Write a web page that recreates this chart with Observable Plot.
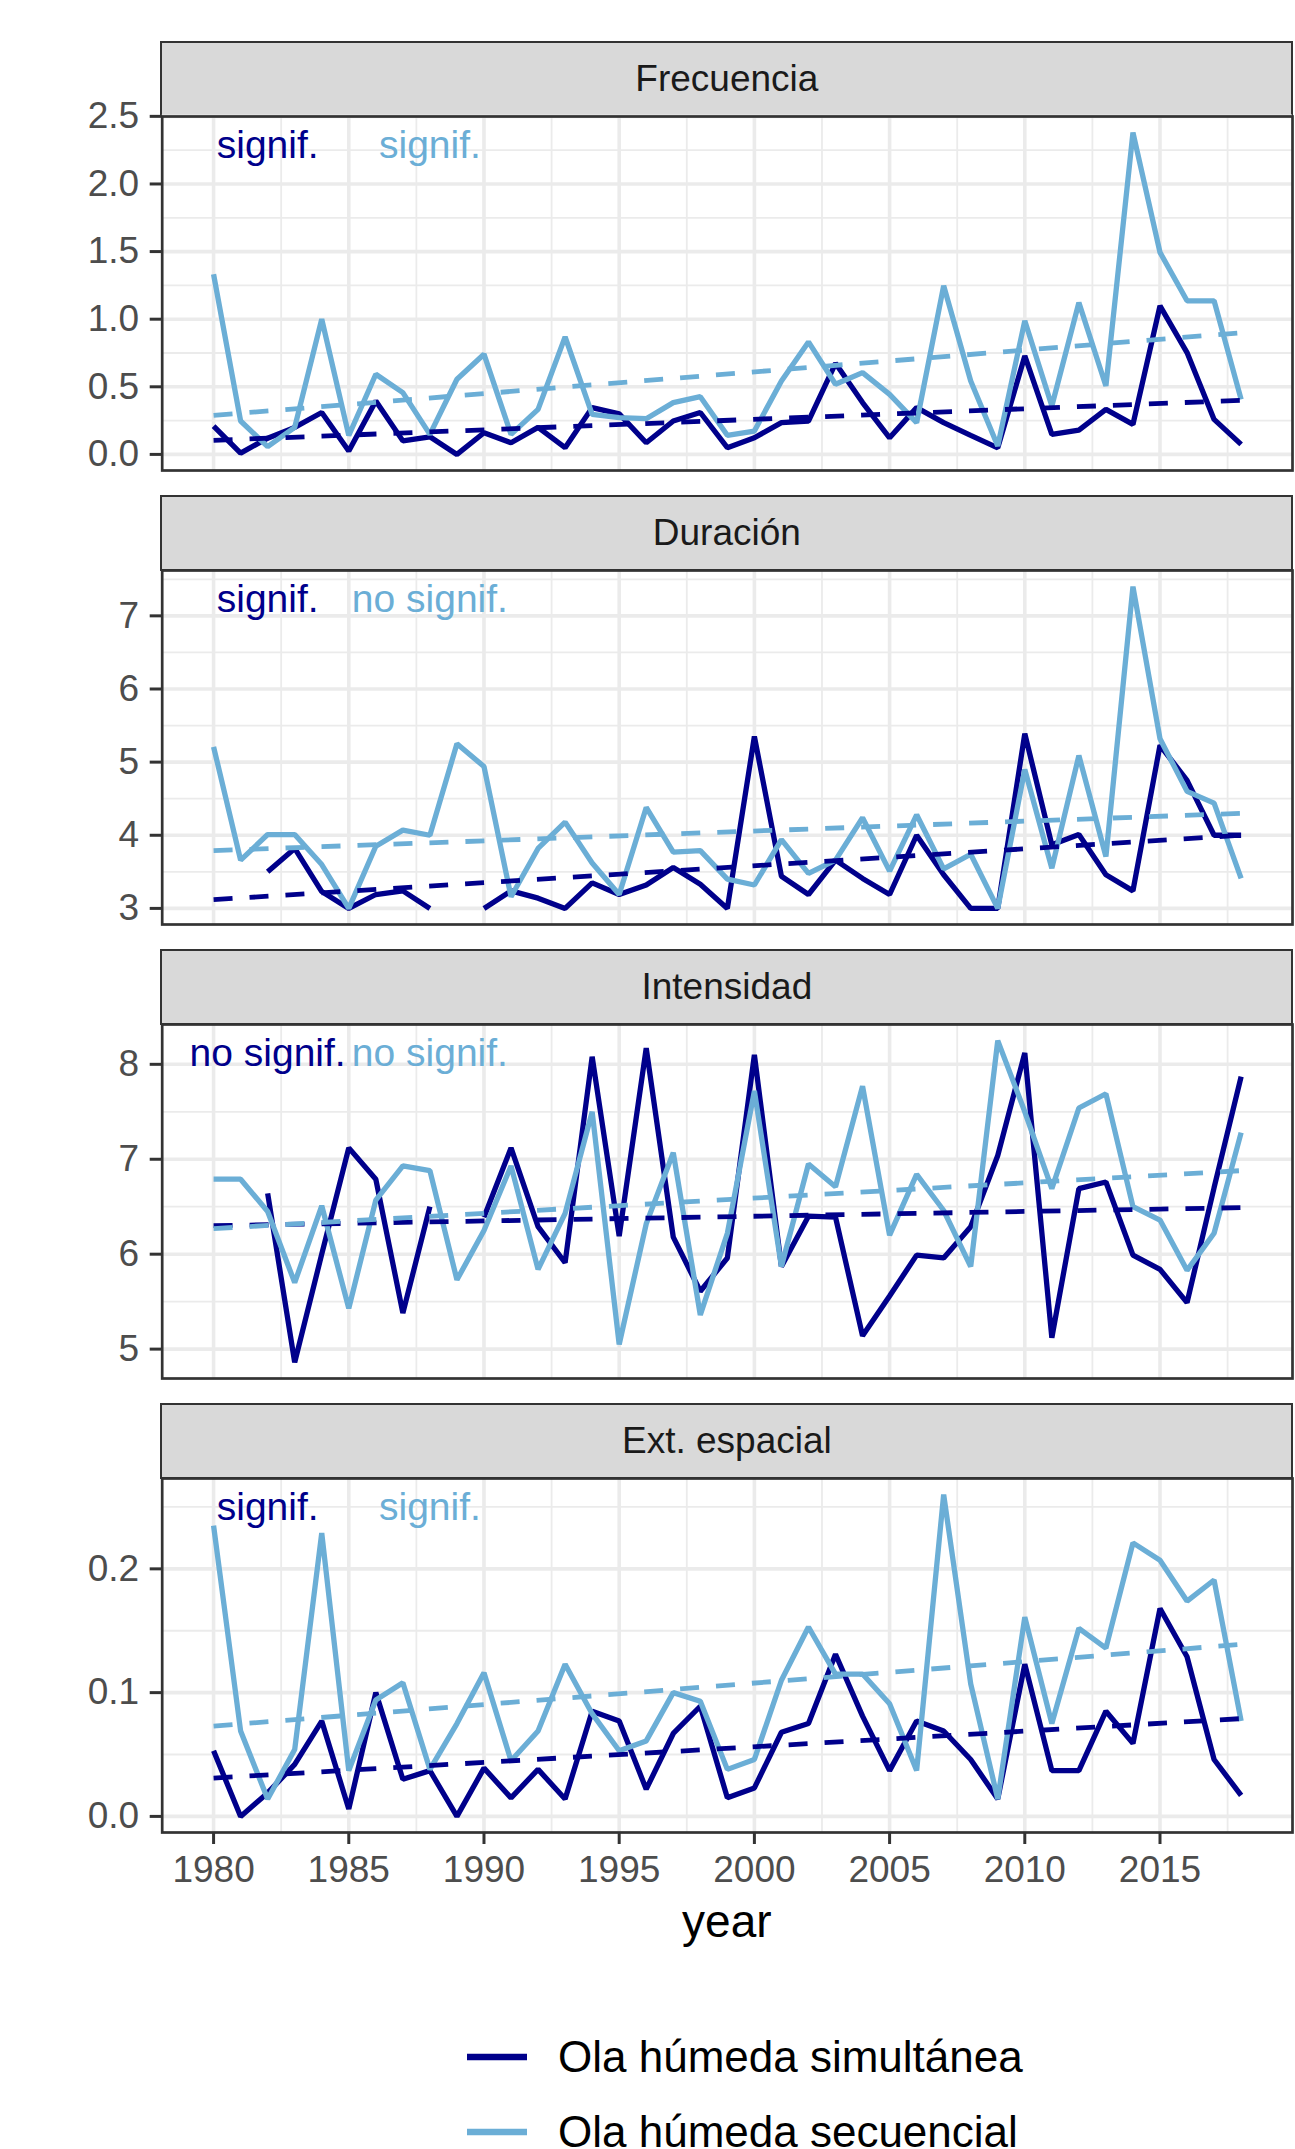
<!DOCTYPE html>
<html>
<head>
<meta charset="utf-8">
<script src="https://cdn.jsdelivr.net/npm/d3@7"></script>
<script src="https://cdn.jsdelivr.net/npm/@observablehq/plot@0.6"></script>
<style>
  html, body { margin: 0; padding: 0; background: #ffffff; }
  #root { position: relative; width: 1295px; height: 2149px; overflow: hidden; background: #ffffff;
          font-family: "Liberation Sans", Arial, Helvetica, sans-serif; }
  .strip { position: absolute; box-sizing: border-box; background: #d9d9d9; border: 2.7px solid #333333;
           color: #1a1a1a; font-size: 37px; display: flex; align-items: center; justify-content: center; }
  .xtitle { position: absolute; left: 161.7px; width: 1130.3px; text-align: center; font-size: 46px; color: #000; }
  .legend-item { position: absolute; left: 460px; display: flex; align-items: center; font-size: 44px; color: #000; }
</style>
</head>
<body>
<div id="root"></div>
<script>
// ---------------- data ----------------
const years = [1980,1981,1982,1983,1984,1985,1986,1987,1988,1989,
               1990,1991,1992,1993,1994,1995,1996,1997,1998,1999,
               2000,2001,2002,2003,2004,2005,2006,2007,2008,2009,
               2010,2011,2012,2013,2014,2015,2016,2017,2018];

const panelTitles = ["Frecuencia", "Duración", "Intensidad", "Ext. espacial"];
const seriesNames = ["Ola húmeda simultánea", "Ola húmeda secuencial"];

// Frecuencia
const frecSim = [0.21,0.01,0.12,0.20,0.31,0.025,0.395,0.10,0.13,0.0,
                 0.16,0.086,0.20,0.05,0.346,0.30,0.086,0.247,0.31,0.05,
                 0.123,0.235,0.247,0.674,0.383,0.123,0.346,0.235,0.141,0.049,
                 0.728,0.148,0.18,0.333,0.222,1.099,0.753,0.259,0.074];
const frecSec = [1.333,0.247,0.057,0.20,1.0,0.14,0.593,0.457,0.148,0.556,
                 0.741,0.148,0.333,0.869,0.296,0.272,0.264,0.383,0.427,0.141,
                 0.173,0.543,0.832,0.519,0.605,0.444,0.235,1.247,0.543,0.062,
                 0.988,0.358,1.123,0.506,2.38,1.494,1.136,1.136,0.407];
// Duración
const durSim = [null,null,3.50,3.82,3.23,3.0,3.19,3.24,3.0,null,
                3.0,3.24,3.14,3.0,3.35,3.19,3.32,3.56,3.33,3.0,
                5.35,3.44,3.19,3.66,3.41,3.19,4.0,3.46,3.0,3.0,
                5.39,3.87,4.01,3.46,3.24,5.23,4.75,4.0,4.0];
const durSec = [5.21,3.66,4.01,4.01,3.6,3.0,3.85,4.07,4.0,5.25,
                4.94,3.16,3.82,4.18,3.62,3.19,4.38,3.77,3.79,3.40,
                3.32,3.94,3.48,3.66,4.24,3.51,4.28,3.54,3.74,3.0,
                4.90,3.55,5.09,3.71,7.40,5.32,4.60,4.44,3.41];
// Intensidad
const intSim = [null,null,6.64,4.86,6.0,7.12,6.79,5.38,6.5,null,
                6.39,7.12,6.29,5.91,8.08,6.19,8.17,6.18,5.61,5.96,
                8.10,5.87,6.40,6.39,5.14,5.56,5.99,5.96,6.29,7.04,
                8.12,5.12,6.69,6.76,5.99,5.84,5.49,6.7,7.87];
const intSec = [6.79,6.79,6.45,5.70,6.51,5.43,6.57,6.93,6.88,5.73,
                6.25,6.93,5.84,6.43,7.50,5.05,6.32,7.07,5.36,6.22,
                7.72,5.87,6.95,6.71,7.77,6.20,6.84,6.46,5.87,8.25,
                7.5,6.69,7.54,7.69,6.50,6.36,5.83,6.22,7.28];
// Ext. espacial
const extSim = [0.053,0.0,0.019,0.042,0.077,0.006,0.10,0.03,0.037,0.0,
                0.039,0.015,0.038,0.014,0.085,0.077,0.022,0.067,0.089,0.015,
                0.023,0.068,0.075,0.131,0.081,0.037,0.077,0.069,0.046,0.014,
                0.123,0.037,0.037,0.085,0.059,0.168,0.129,0.046,0.017];
const extSec = [0.235,0.069,0.014,0.054,0.229,0.037,0.094,0.108,0.038,0.075,
                0.116,0.045,0.069,0.123,0.083,0.053,0.061,0.10,0.093,0.038,
                0.046,0.11,0.153,0.115,0.115,0.091,0.037,0.26,0.107,0.014,
                0.161,0.075,0.152,0.136,0.221,0.207,0.174,0.191,0.077];

// trend lines (start 1980, end 2018)
const trendYears = [1980, 2018];
const frecSimTrend = [0.104, 0.40];
const frecSecTrend = [0.289, 0.90];
const durSimTrend  = [3.12, 4.00];
const durSecTrend  = [3.79, 4.30];
const intSimTrend  = [6.30, 6.49];
const intSecTrend  = [6.27, 6.88];
const extSimTrend  = [0.031, 0.079];
const extSecTrend  = [0.073, 0.139];

// significance labels
const sigSim = ["signif.", "signif.", "no signif.", "signif."];
const sigSec = ["signif.", "no signif.", "no signif.", "signif."];

// tick labels
const xTicks = [1980, 1985, 1990, 1995, 2000, 2005, 2010, 2015];
const frecTicks = [0, 0.5, 1, 1.5, 2, 2.5];
const durTicks = [3, 4, 5, 6, 7];
const intTicks = [5, 6, 7, 8];
const extTicks = [0, 0.1, 0.2];

// ---------------- drawing ----------------
const dark = "#00008B", light = "#6BAED6";
const FONT = '"Liberation Sans", Arial, Helvetica, sans-serif';
const f1 = d3.format(".1f"), f0 = d => String(d);

const panels = [
  {title: panelTitles[0], sim: frecSim, sec: frecSec, simT: frecSimTrend, secT: frecSecTrend, ticks: frecTicks, fmt: f1, s1: sigSim[0], s2: sigSec[0]},
  {title: panelTitles[1], sim: durSim,  sec: durSec,  simT: durSimTrend,  secT: durSecTrend,  ticks: durTicks,  fmt: f0, s1: sigSim[1], s2: sigSec[1]},
  {title: panelTitles[2], sim: intSim,  sec: intSec,  simT: intSimTrend,  secT: intSecTrend,  ticks: intTicks,  fmt: f0, s1: sigSim[2], s2: sigSec[2]},
  {title: panelTitles[3], sim: extSim,  sec: extSec,  simT: extSimTrend,  secT: extSecTrend,  ticks: extTicks,  fmt: f1, s1: sigSim[3], s2: sigSec[3]}
];

const rows = vals => years.map((y, i) => ({year: y, v: vals[i]}));
const trendRows = vals => trendYears.map((y, i) => ({year: y, v: vals[i]}));

const xLo = d3.min(years), xHi = d3.max(years), xPad = (xHi - xLo) * 0.05;
const xDomain = [xLo - xPad, xHi + xPad];
const minorOf = (ticks, dom) => {
  const step = ticks[1] - ticks[0];
  const out = [];
  for (let k = -1; k < ticks.length; k++) {
    const m = ticks[0] + (k + 0.5) * step;
    if (m > dom[0] && m < dom[1]) out.push(m);
  }
  return out;
};
const xMinor = minorOf(xTicks, xDomain);

const root = document.getElementById("root");
const STRIP_TOP0 = 42, PERIOD = 454, STRIP_H = 74, BODY_H = 354, LEFT = 161.7, RIGHT = 1292;
const LW = 5.3;

panels.forEach((p, i) => {
  const top = STRIP_TOP0 + i * PERIOD;
  const strip = document.createElement("div");
  strip.className = "strip";
  strip.style.top = (top - 1.35) + "px";
  strip.style.left = (LEFT - 1.35) + "px";
  strip.style.width = (RIGHT - LEFT + 2.7) + "px";
  strip.style.height = (STRIP_H + 2.7) + "px";
  strip.textContent = p.title;
  root.appendChild(strip);

  const all = [...p.sim, ...p.sec, ...p.simT, ...p.secT].filter(v => v != null);
  const lo = d3.min(all), hi = d3.max(all), pad = (hi - lo) * 0.05;
  const yDomain = [lo - pad, hi + pad];
  const yMinor = minorOf(p.ticks, yDomain);
  const last = i === panels.length - 1;

  const marks = [
    Plot.ruleY(yMinor, {stroke: "#ebebeb", strokeWidth: 1.8}),
    Plot.ruleX(xMinor, {stroke: "#ebebeb", strokeWidth: 1.8}),
    Plot.ruleY(p.ticks, {stroke: "#ebebeb", strokeWidth: 3.6}),
    Plot.ruleX(xTicks, {stroke: "#ebebeb", strokeWidth: 3.6}),
    Plot.line(rows(p.sim), {x: "year", y: "v", stroke: dark, strokeWidth: LW, strokeLinejoin: "miter", strokeLinecap: "butt"}),
    Plot.line(rows(p.sec), {x: "year", y: "v", stroke: light, strokeWidth: LW, strokeLinejoin: "miter", strokeLinecap: "butt"}),
    Plot.line(trendRows(p.simT), {x: "year", y: "v", stroke: dark, strokeWidth: 4.8, strokeDasharray: "19,17", strokeLinecap: "butt"}),
    Plot.line(trendRows(p.secT), {x: "year", y: "v", stroke: light, strokeWidth: 4.8, strokeDasharray: "19,17", strokeLinecap: "butt"}),
    Plot.text([p.s1], {x: () => 1982, frameAnchor: "top", dy: 14, text: d => d, fill: dark, fontSize: 39, textAnchor: "middle"}),
    Plot.text([p.s2], {x: () => 1988, frameAnchor: "top", dy: 14, text: d => d, fill: light, fontSize: 39, textAnchor: "middle"}),
    Plot.frame({stroke: "#333333", strokeWidth: 2.7}),
    Plot.axisY(p.ticks, {tickFormat: p.fmt, tickSize: 12, tickPadding: 11, stroke: "#333333", strokeWidth: 3,
                         fill: "#4d4d4d", fontSize: 37, label: null})
  ];
  if (last) {
    marks.push(Plot.axisX(xTicks, {tickFormat: d => String(d), tickSize: 12, tickPadding: 11, stroke: "#333333",
                                   strokeWidth: 3, fill: "#4d4d4d", fontSize: 37, label: null}));
  }

  const chart = Plot.plot({
    width: 1295,
    height: BODY_H + (last ? 70 : 0),
    marginLeft: LEFT, marginRight: 1295 - RIGHT, marginTop: 0, marginBottom: last ? 70 : 0,
    x: {domain: xDomain, axis: null},
    y: {domain: yDomain, axis: null},
    style: {fontFamily: FONT, background: "transparent", overflow: "visible"},
    marks
  });
  chart.style.position = "absolute";
  chart.style.left = "0px";
  chart.style.top = (top + STRIP_H) + "px";
  root.appendChild(chart);
});

// x axis title
const xt = document.createElement("div");
xt.className = "xtitle";
xt.style.top = (1921 - 27) + "px";
xt.textContent = "year";
root.appendChild(xt);

// legend
[ [seriesNames[0], dark, 2057], [seriesNames[1], light, 2132] ].forEach(([name, col, cy]) => {
  const item = document.createElement("div");
  item.className = "legend-item";
  item.style.top = (cy - 30) + "px";
  item.style.height = "60px";
  item.innerHTML = `<svg width="100" height="60" style="display:block"><line x1="7" x2="67" y1="30" y2="30" stroke="${col}" stroke-width="6.5"/></svg><span style="margin-left:-2px">${name}</span>`;
  root.appendChild(item);
});
</script>
</body>
</html>
